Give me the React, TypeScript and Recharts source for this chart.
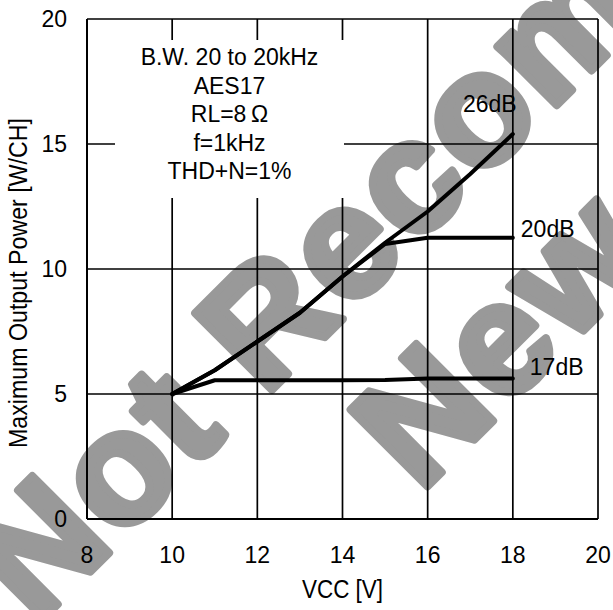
import React from 'react';
import {
  LineChart,
  Line,
  XAxis,
  YAxis,
  CartesianGrid,
  LabelList,
} from 'recharts';

// supply voltage steps (V)
const vcc = [10, 11, 12, 13, 14, 15, 16, 17, 18];
// max output power per gain setting (W/CH)
const gain26 = [5, 5.95, 7.1, 8.25, 9.7, 11.05, 12.3, 13.8, 15.4];
const gain20 = [5, 5.95, 7.1, 8.25, 9.7, 11.0, 11.25, 11.25, 11.25];
const gain17 = [5, 5.55, 5.55, 5.55, 5.55, 5.56, 5.62, 5.62, 5.62];

const xTicks = [8, 10, 12, 14, 16, 18, 20];
const yTicks = [0, 5, 10, 15, 20];

const conditions = ['B.W. 20 to 20kHz', 'AES17', 'RL=8\u2009\u03A9', 'f=1kHz', 'THD+N=1%'];
const watermarkLines = ['Not Recommended for', 'New Designs'];

const data = vcc.map((v, i) => ({
  vcc: v,
  g26: gain26[i],
  g20: gain20[i],
  g17: gain17[i],
}));

const FONT = '"Liberation Sans", Arial, sans-serif';
const last = vcc.length - 1;

const endLabel = (text: string, dx: number, dy: number, anchor = 'start') => (p: any) => {
  if (p.index !== last) return null;
  return (
    <text
      x={Number(p.x) + dx}
      y={Number(p.y) + dy}
      textAnchor={anchor}
      fontSize={23}
      fill="#000"
    >
      {text}
    </text>
  );
};

const XLabel = ({ viewBox }: any) => (
  <text
    x={viewBox.x + viewBox.width / 2}
    y={viewBox.y + 79}
    textAnchor="middle"
    fontSize={25}
    textLength={81}
    lengthAdjust="spacingAndGlyphs"
    fill="#000"
  >
    VCC [V]
  </text>
);

const YLabel = () => (
  <text
    transform="translate(27,283) rotate(-90)"
    textAnchor="middle"
    fontSize={26}
    textLength={330}
    lengthAdjust="spacingAndGlyphs"
    fill="#000"
  >
    Maximum Output Power [W/CH]
  </text>
);

// grey diagonal stamp sits behind the chart svg
const Watermark = () => (
  <svg width={613} height={610} style={{ position: 'absolute', left: 0, top: 0 }}>
    <g fontSize={158} fontWeight="bold" letterSpacing={4} fill="#999999" stroke="#999999" strokeWidth={8} strokeLinejoin="round">
      <text transform="translate(36,626) rotate(-45)">{watermarkLines[0]}</text>
      <text transform="translate(420,494) rotate(-45)">{watermarkLines[1]}</text>
    </g>
  </svg>
);

const App = () => (
  <div
    style={{
      position: 'absolute',
      left: 0,
      top: 0,
      width: 613,
      height: 610,
      background: '#fff',
      fontFamily: FONT,
      overflow: 'hidden',
    }}
  >
    <Watermark />
    <div style={{ position: 'absolute', left: 0, top: 0 }}>
      <LineChart
        width={613}
        height={610}
        data={data}
        margin={{ top: 19, right: 15, bottom: 0, left: 0 }}
      >
        <CartesianGrid stroke="#000" strokeWidth={1.7} />
        <XAxis
          dataKey="vcc"
          type="number"
          domain={[8, 20]}
          ticks={xTicks}
          height={91}
          tickLine={false}
          tickSize={0}
          tickMargin={28}
          axisLine={{ stroke: '#000', strokeWidth: 2 }}
          tick={{ fill: '#000', fontSize: 23 }}
          label={<XLabel />}
        />
        <YAxis
          type="number"
          domain={[0, 20]}
          ticks={yTicks}
          width={87}
          tickLine={false}
          tickSize={0}
          tickMargin={20}
          axisLine={{ stroke: '#000', strokeWidth: 2 }}
          tick={{ fill: '#000', fontSize: 23 }}
          label={<YLabel />}
        />
        <Line
          dataKey="g17"
          type="linear"
          stroke="#000"
          strokeWidth={4}
          strokeLinejoin="round"
          strokeLinecap="round"
          dot={false}
          isAnimationActive={false}
        >
          <LabelList dataKey="g17" content={endLabel('17dB', 17, -4)} />
        </Line>
        <Line
          dataKey="g20"
          type="linear"
          stroke="#000"
          strokeWidth={4}
          strokeLinejoin="round"
          strokeLinecap="round"
          dot={false}
          isAnimationActive={false}
        >
          <LabelList dataKey="g20" content={endLabel('20dB', 8, -1)} />
        </Line>
        <Line
          dataKey="g26"
          type="linear"
          stroke="#000"
          strokeWidth={4}
          strokeLinejoin="round"
          strokeLinecap="round"
          dot={false}
          isAnimationActive={false}
        >
          <LabelList dataKey="g26" content={endLabel('26dB', -23, -22, 'middle')} />
        </Line>
      </LineChart>
    </div>
    <div
      style={{
        position: 'absolute',
        left: 115,
        top: 40,
        width: 229,
        height: 155,
        paddingTop: 3,
        background: '#fff',
        textAlign: 'center',
        fontSize: 23,
        lineHeight: '28.5px',
        color: '#000',
      }}
    >
      {conditions.map((c) => (
        <div key={c}>{c}</div>
      ))}
    </div>
  </div>
);

export default App;
